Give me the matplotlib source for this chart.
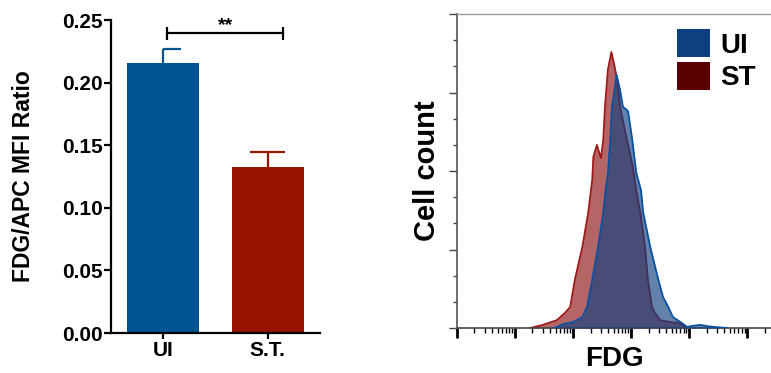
import matplotlib
matplotlib.use("Agg")
import matplotlib.pyplot as plt
import numpy as np
from matplotlib.patches import Patch
from matplotlib.ticker import FixedLocator, NullFormatter

plt.rcParams['font.family'] = ['Liberation Sans', 'DejaVu Sans']
plt.rcParams['font.weight'] = 'bold'

# bar chart data
groups = ['UI', 'S.T.']
ratio = [0.216, 0.133]
ratio_err = [0.011, 0.012]
bar_colors = ['#005490', '#971500']
cap_left = [0.0, 1.0]   # UI cap only drawn to the right in the original
signif = '**'
signif_y = 0.2395
signif_x = [0.04, 1.15]

# histogram data (FDG in decades, cell count in % of max)
st_fdg = [1.26, 1.48, 1.72, 1.86, 1.95, 2.03, 2.16, 2.26, 2.33, 2.35, 2.41, 2.48, 2.52, 2.55, 2.60,
          2.66, 2.71, 2.76, 2.81, 2.93, 3.03, 3.09, 3.16, 3.24, 3.29, 3.36, 3.41, 3.50, 3.67, 3.84, 3.97]
st_count = [0, 1.0, 2.5, 4.8, 6.7, 15.3, 25.8, 36.6, 47.1, 54.5, 58.3, 54.1, 59.9, 70.4, 82.2,
            87.9, 83.8, 79.0, 70.4, 59.9, 51.3, 43.9, 36.6, 25.8, 15.3, 6.7, 4.8, 2.5, 1.9, 1.6, 0]
ui_fdg = [1.66, 1.72, 1.83, 2.00, 2.16, 2.24, 2.33, 2.43, 2.52, 2.56, 2.60, 2.64, 2.67, 2.71, 2.75,
          2.81, 2.86, 2.93, 2.95, 3.02, 3.09, 3.17, 3.21, 3.33, 3.47, 3.55, 3.64, 3.72, 3.85, 3.97,
          4.02, 4.19, 4.31, 4.45, 4.66]
ui_count = [0, 0.3, 1.3, 1.9, 3.5, 6.7, 15.3, 25.8, 36.6, 43.9, 49.0, 59.9, 70.4, 75.2, 80.6,
            75.8, 70.4, 69.4, 68.8, 59.9, 49.4, 43.9, 36.6, 25.8, 15.3, 9.9, 6.7, 3.5, 1.9, 0.3,
            0.6, 1.0, 0.6, 0.3, 0]

fig = plt.figure(figsize=(7.71, 3.73), dpi=100)

# ---- left: bar chart ----
ax1 = fig.add_axes([0.144, 0.107, 0.271, 0.839])
x = np.arange(len(groups))
width = 0.69
ax1.bar(x, ratio, width, color=bar_colors, zorder=2)
capw = 0.17
for i in range(len(groups)):
    top = ratio[i] + ratio_err[i]
    ax1.vlines(x[i], ratio[i], top, color=bar_colors[i], lw=1.6, zorder=1)
    ax1.hlines(top, x[i] - capw * cap_left[i], x[i] + capw, color=bar_colors[i], lw=1.6, zorder=1)

ax1.plot(signif_x, [signif_y, signif_y], color='black', lw=1.6)
ax1.vlines(signif_x, signif_y - 0.0052, signif_y + 0.0052, color='black', lw=1.6)
ax1.text(np.mean(signif_x), signif_y + 0.0025, signif, ha='center', va='baseline',
         fontsize=14, fontweight='bold')

ax1.set_xlim(-0.5, 1.5)
ax1.set_ylim(0, 0.25)
ax1.set_yticks(np.arange(0, 0.26, 0.05))
ax1.set_yticklabels(['%.2f' % v for v in np.arange(0, 0.26, 0.05)])
ax1.set_xticks(x)
ax1.set_xticklabels(groups)
for s in ['top', 'right']:
    ax1.spines[s].set_visible(False)
for s in ['left', 'bottom']:
    ax1.spines[s].set_linewidth(1.6)
ax1.tick_params(axis='y', length=5, width=1.6, pad=1, labelsize=15)
ax1.tick_params(axis='x', length=4.5, width=1.6, pad=1.5, labelsize=15)
ax1.set_ylabel('FDG/APC MFI Ratio', fontsize=16.5, fontweight='bold')
ax1.yaxis.set_label_coords(-0.364, 0.5)

# ---- right: histogram overlay ----
ax2 = fig.add_axes([0.5927, 0.1206, 0.4073, 0.8418])
st_x = 10 ** np.array(st_fdg)
ui_x = 10 ** np.array(ui_fdg)
ax2.fill_between(st_x, st_count, color='#8c1414', alpha=0.65, lw=0, zorder=1)
ax2.plot(st_x, st_count, color='#a01616', lw=1.3, zorder=2)
ax2.fill_between(ui_x, ui_count, color='#0e3f80', alpha=0.65, lw=0, zorder=3)
ax2.plot(ui_x, ui_count, color='#0a50a0', lw=1.3, zorder=4)

ax2.set_xscale('log')
ax2.set_xlim(1, 10 ** 5.41)
ax2.set_ylim(0, 100)
ax2.xaxis.set_major_locator(FixedLocator(10.0 ** np.arange(0, 6)))
minor = [m * 10.0 ** d for d in range(0, 6) for m in range(2, 10)]
ax2.xaxis.set_minor_locator(FixedLocator(minor))
ax2.xaxis.set_major_formatter(NullFormatter())
ax2.xaxis.set_minor_formatter(NullFormatter())
ax2.set_yticks(np.arange(0, 101, 25))
ax2.set_yticks(np.arange(0, 101, 25 / 3), minor=True)
ax2.set_yticklabels([])
ax2.tick_params(axis='x', which='major', length=7, width=2, color='black')
ax2.tick_params(axis='x', which='minor', length=3.5, width=1, color='black')
ax2.tick_params(axis='y', which='major', length=6, width=1, color='#444444')
ax2.tick_params(axis='y', which='minor', length=3, width=1, color='#444444')
ax2.spines['right'].set_visible(False)
ax2.spines['top'].set_color('#999999')
ax2.spines['top'].set_linewidth(1.0)
ax2.spines['left'].set_color('#555555')
ax2.spines['left'].set_linewidth(1.2)
ax2.spines['bottom'].set_color('#444444')
ax2.spines['bottom'].set_linewidth(1.2)

ax2.set_ylabel('Cell count', fontsize=21, fontweight='bold')
ax2.yaxis.set_label_coords(-0.051, 0.5)
ax2.set_xlabel('FDG', fontsize=20, fontweight='bold')
ax2.xaxis.set_label_coords(0.503, -0.058)

handles = [Patch(facecolor='#0e3f80', label='UI'), Patch(facecolor='#5a0000', label='ST')]
ax2.legend(handles=handles, loc='upper left', bbox_to_anchor=(0.7006, 0.952), frameon=False,
           borderpad=0, borderaxespad=0, handlelength=1.19, handleheight=1.19,
           handletextpad=0.36, labelspacing=0.11, prop={'size': 20, 'weight': 'bold'})

fig.savefig('out.png', dpi=100)
